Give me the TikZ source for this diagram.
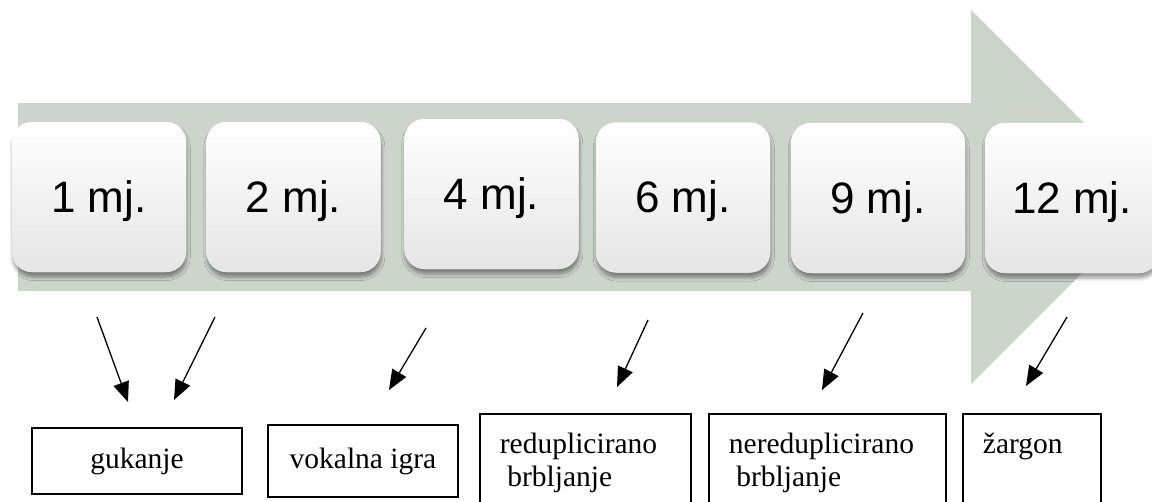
\documentclass[tikz,border=0pt]{standalone}
\usepackage{fontspec}
\setmainfont{Liberation Serif}
\newfontfamily\arialf{Liberation Sans}
\usetikzlibrary{arrows.meta,shadows.blur}
\definecolor{arrowbg}{RGB}{205,212,204}
\tikzset{
  monthbox/.style={rounded corners=20pt, minimum width=174pt, minimum height=150pt,
    inner sep=0pt, fill=white, top color=white, middle color=white, bottom color=black!10,
    blur shadow={shadow xshift=0.8pt, shadow yshift=-5pt, shadow blur radius=3.5pt, shadow blur steps=6, shadow opacity=40},
    font=\arialf\fontsize{44}{50}\selectfont, text height=31.5pt, text depth=1pt},
  stagebox/.style={draw=black, line width=1.8pt, inner ysep=0pt, fill=white,
    font=\fontsize{29.5}{33}\selectfont},
  leftbox/.style={stagebox, anchor=north west, minimum height=97pt, inner xsep=20pt, align=left},
  pointer/.style={line width=1.3pt, -{Triangle[length=20pt,width=16pt]}}
}
\begin{document}
\begin{tikzpicture}[x=1pt,y=-1pt]
\useasboundingbox (0,0) rectangle (1152,501);
\clip (0,0) rectangle (1152,501);
% background arrow
\fill[arrowbg] (18,103) -- (971,103) -- (971,10) -- (1158,197) -- (971,384) -- (971,291) -- (18,291) -- cycle;
% month boxes
\node[monthbox] (m1) at (99,197) {1 mj.};
\node[monthbox] (m2) at (293.5,197) {2 mj.};
\node[monthbox] (m4) at (491.5,194) {4 mj.};
\node[monthbox] (m6) at (683,197.5) {6 mj.};
\node[monthbox] (m9) at (878,198) {9 mj.};
\node[monthbox] (m12) at (1072,198) {12 mj.};
% stage boxes
\node[stagebox, minimum width=210pt, minimum height=66pt] (guk) at (137,461) {gukanje};
\node[stagebox, minimum width=190pt, minimum height=72pt] (vok) at (363,461) {vokalna igra};
\node[leftbox, text width=171pt] (red) at (479,413) {reduplicirano\\\hspace*{0.25em}brbljanje};
\node[leftbox, text width=197pt] (nred) at (708,413) {nereduplicirano\\\hspace*{0.25em}brbljanje};
\node[leftbox, text width=98pt] (zar) at (962,413) {žargon\\\vphantom{j}};
% connector ends
\coordinate (a1s) at (97,317);   \coordinate (a1e) at (128,402);
\coordinate (a2s) at (215,317);  \coordinate (a2e) at (174,400);
\coordinate (a3s) at (426,328);  \coordinate (a3e) at (389,390);
\coordinate (a4s) at (648,320);  \coordinate (a4e) at (617,387);
\coordinate (a5s) at (863,313);  \coordinate (a5e) at (822,390);
\coordinate (a6s) at (1067,317); \coordinate (a6e) at (1026,386);
\draw[pointer] (a1s) -- (a1e);
\draw[pointer] (a2s) -- (a2e);
\draw[pointer] (a3s) -- (a3e);
\draw[pointer] (a4s) -- (a4e);
\draw[pointer] (a5s) -- (a5e);
\draw[pointer] (a6s) -- (a6e);
\end{tikzpicture}
\end{document}
